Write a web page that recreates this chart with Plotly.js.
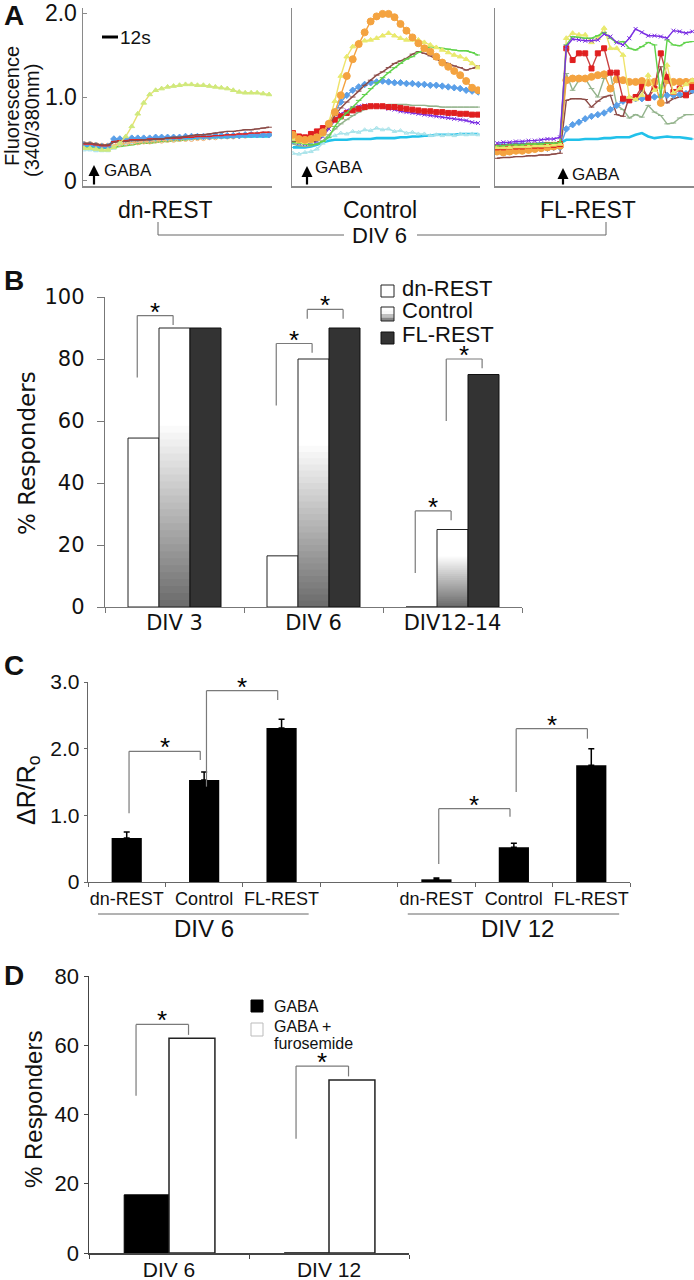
<!DOCTYPE html>
<html><head><meta charset="utf-8">
<script src="https://cdn.plot.ly/plotly-3.0.1.min.js"></script>
<style>html,body{margin:0;padding:0;background:#fff}#chart{width:694px;height:1280px}</style>
</head><body><div id="chart"></div>
<script>
// ---------------- DATA ----------------
// Panel A: fluorescence ratio traces (340/380nm), one value per frame
const frames = [0,1,2,3,4,5,6,7,8,9,10,11,12,13,14,15,16,17,18,19,20,21,22,23,24,25,26,27,28,29,30,31];
const panelALabels = ['dn-REST','Control','FL-REST'];

// dn-REST
const dnYellow    = [0.39,0.39,0.38,0.37,0.37,0.40,0.45,0.53,0.65,0.80,0.93,1.03,1.08,1.10,1.12,1.13,1.14,1.15,1.15,1.14,1.14,1.13,1.12,1.11,1.10,1.08,1.06,1.05,1.05,1.05,1.04,1.03];
const dnBrown     = [0.45,0.45,0.44,0.43,0.43,0.46,0.47,0.47,0.48,0.48,0.49,0.49,0.50,0.50,0.51,0.52,0.52,0.53,0.54,0.55,0.55,0.56,0.57,0.58,0.59,0.59,0.60,0.61,0.61,0.62,0.63,0.64];
const dnRed       = [0.44,0.44,0.43,0.42,0.42,0.47,0.48,0.48,0.49,0.49,0.49,0.50,0.50,0.50,0.51,0.51,0.51,0.52,0.52,0.53,0.53,0.53,0.54,0.54,0.55,0.55,0.56,0.56,0.57,0.57,0.58,0.58];
const dnBlue      = [0.43,0.43,0.42,0.41,0.41,0.50,0.50,0.50,0.51,0.51,0.51,0.51,0.52,0.52,0.52,0.52,0.52,0.53,0.53,0.53,0.53,0.53,0.54,0.54,0.54,0.54,0.54,0.55,0.55,0.55,0.55,0.55];
const dnCyan      = [0.42,0.42,0.41,0.40,0.40,0.49,0.49,0.49,0.50,0.50,0.50,0.50,0.50,0.51,0.51,0.51,0.51,0.51,0.51,0.52,0.52,0.52,0.52,0.52,0.52,0.53,0.53,0.53,0.53,0.53,0.53,0.53];
const dnOrange    = [0.44,0.44,0.43,0.42,0.42,0.43,0.44,0.45,0.46,0.46,0.47,0.47,0.48,0.48,0.49,0.49,0.50,0.50,0.50,0.51,0.51,0.52,0.52,0.53,0.53,0.53,0.54,0.54,0.55,0.55,0.55,0.56];
const dnGreen     = [0.40,0.40,0.39,0.39,0.39,0.40,0.41,0.42,0.43,0.44,0.45,0.45,0.46,0.47,0.47,0.48,0.48,0.49,0.50,0.50,0.51,0.51,0.52,0.52,0.53,0.53,0.53,0.54,0.54,0.54,0.55,0.55];
const dnLightCyan = [0.37,0.37,0.36,0.36,0.36,0.39,0.42,0.44,0.45,0.46,0.46,0.47,0.47,0.48,0.48,0.49,0.49,0.50,0.50,0.51,0.51,0.51,0.52,0.52,0.52,0.53,0.53,0.53,0.53,0.54,0.54,0.54];

// Control
const ctOrange    = [0.55,0.50,0.49,0.50,0.52,0.58,0.68,0.82,1.02,1.25,1.45,1.63,1.77,1.90,1.96,1.99,1.99,1.95,1.87,1.79,1.71,1.64,1.58,1.54,1.48,1.41,1.36,1.31,1.26,1.19,1.11,1.08];
const ctYellow    = [0.50,0.47,0.46,0.47,0.50,0.55,0.70,0.95,1.25,1.48,1.60,1.65,1.67,1.68,1.70,1.73,1.76,1.73,1.70,1.68,1.68,1.68,1.65,1.62,1.59,1.56,1.53,1.50,1.48,1.45,1.40,1.35];
const ctGreen     = [0.46,0.45,0.44,0.43,0.44,0.47,0.52,0.65,0.74,0.81,0.88,0.96,1.03,1.10,1.17,1.23,1.29,1.35,1.40,1.45,1.48,1.53,1.57,1.60,1.59,1.58,1.57,1.56,1.55,1.55,1.53,1.50];
const ctBrown     = [0.47,0.46,0.45,0.46,0.48,0.55,0.65,0.78,0.87,0.94,1.00,1.07,1.14,1.20,1.26,1.30,1.35,1.40,1.43,1.46,1.51,1.54,1.52,1.49,1.45,1.42,1.40,1.37,1.35,1.32,1.34,1.37];
const ctBlue      = [0.48,0.47,0.46,0.47,0.50,0.56,0.68,0.82,0.94,1.02,1.08,1.12,1.15,1.17,1.18,1.19,1.18,1.17,1.17,1.16,1.16,1.15,1.15,1.14,1.14,1.13,1.12,1.11,1.10,1.08,1.07,1.06];
const ctRed       = [0.57,0.53,0.52,0.56,0.59,0.63,0.68,0.73,0.77,0.81,0.84,0.86,0.88,0.89,0.89,0.89,0.88,0.88,0.87,0.86,0.85,0.84,0.83,0.83,0.82,0.82,0.81,0.81,0.80,0.80,0.79,0.79];
const ctPurple    = [0.47,0.45,0.44,0.45,0.47,0.53,0.62,0.72,0.80,0.84,0.87,0.89,0.90,0.90,0.89,0.88,0.86,0.85,0.83,0.82,0.81,0.80,0.79,0.78,0.77,0.76,0.75,0.74,0.73,0.72,0.70,0.69];
const ctSage      = [0.44,0.42,0.41,0.42,0.44,0.48,0.55,0.62,0.68,0.73,0.78,0.82,0.85,0.88,0.89,0.90,0.91,0.91,0.91,0.91,0.90,0.90,0.90,0.89,0.89,0.88,0.88,0.88,0.88,0.88,0.88,0.88];
const ctLightCyan = [0.33,0.32,0.34,0.35,0.38,0.45,0.52,0.54,0.57,0.56,0.59,0.58,0.61,0.60,0.63,0.61,0.62,0.59,0.60,0.57,0.58,0.56,0.56,0.54,0.55,0.54,0.55,0.54,0.56,0.55,0.56,0.55];
const ctCyan      = [0.40,0.40,0.40,0.41,0.43,0.46,0.48,0.49,0.49,0.49,0.50,0.50,0.50,0.50,0.51,0.51,0.51,0.51,0.52,0.52,0.53,0.53,0.54,0.54,0.55,0.55,0.55,0.55,0.56,0.56,0.56,0.56];

// FL-REST
const flPurple = [0.45,0.46,0.46,0.47,0.47,0.48,0.48,0.49,0.50,0.50,0.52,1.60,1.69,1.68,1.67,1.67,1.68,1.75,1.72,1.65,1.62,1.70,1.81,1.77,1.73,1.73,1.72,1.70,1.79,1.78,1.76,1.78];
const flGreen  = [0.42,0.42,0.43,0.43,0.43,0.44,0.44,0.44,0.45,0.45,0.46,1.62,1.72,1.71,1.70,1.70,1.73,1.77,1.70,1.65,1.66,1.58,1.56,1.60,1.65,1.62,1.00,1.68,1.62,1.61,1.65,1.66];
const flYellow = [0.40,0.40,0.40,0.41,0.41,0.41,0.42,0.42,0.42,0.43,0.44,1.70,1.76,1.74,1.74,1.65,1.70,1.82,1.58,1.58,1.50,1.00,0.97,1.02,1.26,1.08,1.12,1.38,1.05,1.10,1.15,1.20];
const flRed    = [0.40,0.40,0.41,0.41,0.41,0.42,0.42,0.42,0.43,0.43,0.44,1.58,1.44,1.52,1.52,1.34,1.52,1.58,1.29,1.29,0.98,0.96,1.00,1.12,0.99,1.10,1.52,1.24,1.06,1.10,1.02,1.12];
const flOrange = [0.35,0.34,0.35,0.36,0.36,0.37,0.38,0.39,0.40,0.41,0.42,1.20,1.22,1.22,1.22,1.24,1.26,1.27,1.10,1.21,1.20,1.18,1.18,1.19,1.17,1.18,0.93,1.20,1.18,1.18,1.18,1.18];
const flSage   = [0.38,0.38,0.38,0.39,0.39,0.39,0.40,0.40,0.40,0.41,0.41,1.28,1.08,1.20,1.22,1.10,1.00,1.22,1.28,0.90,0.85,0.75,0.79,0.76,0.90,0.82,0.78,0.68,0.69,0.75,0.79,0.79];
const flBrown  = [0.27,0.28,0.28,0.29,0.29,0.30,0.30,0.31,0.31,0.32,0.33,0.96,0.98,0.98,0.97,0.88,0.95,1.00,1.02,0.79,0.77,1.00,0.98,1.08,1.00,1.15,1.36,0.93,0.98,1.00,1.02,1.05];
const flBlue   = [0.37,0.37,0.37,0.38,0.38,0.38,0.39,0.39,0.39,0.40,0.40,0.62,0.67,0.70,0.74,0.77,0.79,0.81,0.85,0.90,0.95,0.97,0.98,0.98,0.99,1.00,1.01,1.02,1.02,1.03,1.04,1.08];
const flCyan   = [0.43,0.43,0.43,0.44,0.44,0.44,0.44,0.45,0.45,0.45,0.45,0.49,0.49,0.49,0.50,0.50,0.50,0.51,0.51,0.52,0.52,0.52,0.55,0.57,0.53,0.51,0.52,0.53,0.52,0.52,0.51,0.50];

// Panel B: % responders
const bCategories = ['DIV 3','DIV 6','DIV12-14'];
const bSeriesNames = ['dn-REST','Control','FL-REST'];
const bDnREST   = [54.5, 16.5, 0];
const bControl  = [90, 80, 25];
const bFLREST   = [90, 90, 75];
// significance brackets: [category index, from bar, to bar, left y, top y, right y]
const bBrackets = [[0,0,1,74,94,91],[1,0,1,65,85,82],[1,1,2,93,96,93],[2,1,2,60,80,77],[2,0,1,11,31,28]];

// Panel C: dR/Ro
const cGroups = ['DIV 6','DIV 12'];
const cConditions = ['dn-REST','Control','FL-REST'];
const cDiv6Mean  = [0.66, 1.53, 2.31];
const cDiv6Err   = [0.09, 0.12, 0.13];
const cDiv12Mean = [0.04, 0.52, 1.75];
const cDiv12Err  = [0.02, 0.06, 0.25];
// [from index, to index, left y, top y, right y]
const cBrackets = [[0,1,1.03,1.96,1.83],[1,2,1.43,2.87,2.73],[4,5,0.27,1.10,0.98],[5,6,1.35,2.30,2.15]];

// Panel D: % responders GABA vs GABA + furosemide
const dCategories = ['DIV 6','DIV 12'];
const dGABA      = [16.8, 0];
const dGABAFuro  = [62, 50];
const dBrackets  = [[0,45.4,66,63],[1,33,54,51]];

// ---------------- HELPERS ----------------
const W = 694, H = 1280;
const px = v => v / W;
const py = v => 1 - v / H;
const SANS = 'Liberation Sans, Arial, sans-serif';
const DEJA = 'DejaVu Sans, Verdana, sans-serif';

const STY = {
  yellow:    {line:'#efe36b', marker:'#e9ea6e', symbol:'triangle-up', size:5},
  yellowG:   {line:'#e8e070', marker:'#cfe97c', symbol:'triangle-up', size:5},
  green:     {line:'#5fd24a', marker:'#5fd24a', symbol:'line-ew-open', size:4},
  orange:    {line:'#f4a340', marker:'#f4a340', symbol:'circle', size:7},
  orangeOpen:{line:'#f2b87a', marker:'#f2b070', symbol:'circle-open', size:5},
  brown:     {line:'#8c4b47', marker:'#8c4b47', symbol:'line-ew-open', size:4},
  blue:      {line:'#5a9fe8', marker:'#5a9fe8', symbol:'diamond', size:5},
  red:       {line:'#c94040', marker:'#e01f1f', symbol:'square', size:5},
  redDash:   {line:'#d84040', marker:'#e01f1f', symbol:'line-ew-open', size:4},
  purple:    {line:'#7b2fe3', marker:'#7b2fe3', symbol:'x-thin-open', size:4},
  sage:      {line:'#93b38c', marker:'#93b38c', symbol:'line-ew-open', size:4},
  lightcyan: {line:'#a9e3ea', marker:'#a9e3ea', symbol:'triangle-up-open', size:4},
  cyan:      {line:'#22c1ea', marker:'#22c1ea', symbol:'line-ew-open', size:2, width:2.6}
};

const traces = [];
function seriesTrace(values, sty, xa, ya) {
  const s = STY[sty];
  return {type:'scatter', mode:'lines+markers', x:frames, y:values, xaxis:xa, yaxis:ya,
    line:{color:s.line, width:s.width || 1.4},
    marker:{symbol:s.symbol, size:s.size, color:s.marker, line:{color:s.marker, width:1}},
    hoverinfo:'skip', showlegend:false};
}
[['lightcyan',dnLightCyan],['green',dnGreen],['orangeOpen',dnOrange],['cyan',dnCyan],['blue',dnBlue],['redDash',dnRed],['brown',dnBrown],['yellowG',dnYellow]]
  .forEach(([s,v]) => traces.push(seriesTrace(v, s, 'x', 'y')));
[['cyan',ctCyan],['lightcyan',ctLightCyan],['sage',ctSage],['purple',ctPurple],['red',ctRed],['blue',ctBlue],['brown',ctBrown],['green',ctGreen],['yellow',ctYellow],['orange',ctOrange]]
  .forEach(([s,v]) => traces.push(seriesTrace(v, s, 'x2', 'y2')));
[['cyan',flCyan],['sage',flSage],['brown',flBrown],['blue',flBlue],['orange',flOrange],['red',flRed],['yellow',flYellow],['green',flGreen],['purple',flPurple]]
  .forEach(([s,v]) => traces.push(seriesTrace(v, s, 'x3', 'y3')));

// ---- Panel B bars ----
const bW = 0.223;
const bOffsets = [-1.5*bW, -0.5*bW, 0.5*bW];
traces.push({type:'bar', x:bCategories, y:bDnREST, name:bSeriesNames[0], xaxis:'x4', yaxis:'y4',
  offset:bOffsets[0], width:bW, marker:{color:'#ffffff', line:{color:'#222', width:1}}, hoverinfo:'skip'});
const SEG = 40;
function ctrlGrey(f){ const g = Math.round(0x6a + (0xff-0x6a)*Math.min(1, f/0.66)); return `rgb(${g},${g},${g})`; }
// gradient fill of the Control bars: each layer runs from its base to the bar top, upper layers cover lower ones
for (let k = 0; k < SEG; k++) {
  traces.push({type:'bar', x:bCategories, y:bControl.map(v => v*(SEG-k)/SEG), base:bControl.map(v => v*k/SEG),
    xaxis:'x4', yaxis:'y4', offset:bOffsets[1], width:bW,
    marker:{color:ctrlGrey((k+0.5)/SEG), line:{width:0}}, hoverinfo:'skip', showlegend:false});
}
traces.push({type:'bar', x:bCategories, y:bControl, name:bSeriesNames[1], xaxis:'x4', yaxis:'y4',
  offset:bOffsets[1], width:bW, marker:{color:'rgba(0,0,0,0)', line:{color:'#222', width:1}}, hoverinfo:'skip'});
traces.push({type:'bar', x:bCategories, y:bFLREST, name:bSeriesNames[2], xaxis:'x4', yaxis:'y4',
  offset:bOffsets[2], width:bW, marker:{color:'#333333', line:{color:'#111', width:1}}, hoverinfo:'skip'});

// ---- Panel C bars ----
const cKeys = [...cConditions.map(c => c + ' | ' + cGroups[0]), 'gap', ...cConditions.map(c => c + ' | ' + cGroups[1])];
const cTickText = [...cConditions, '', ...cConditions];
const cMeans = [...cDiv6Mean, null, ...cDiv12Mean];
const cErrs = [...cDiv6Err, 0, ...cDiv12Err];
traces.push({type:'bar', x:cKeys, y:cMeans, xaxis:'x5', yaxis:'y5', offset:-0.195, width:0.39,
  marker:{color:'#000', line:{width:0}}, hoverinfo:'skip',
  error_y:{type:'data', symmetric:false, array:cErrs, arrayminus:cErrs.map(() => 0), color:'#000', thickness:1.5, width:3}});

// ---- Panel D bars ----
traces.push({type:'bar', x:dCategories, y:dGABA, name:'GABA', xaxis:'x6', yaxis:'y6', offset:-0.28, width:0.28,
  marker:{color:'#000', line:{color:'#000', width:1}}, hoverinfo:'skip'});
traces.push({type:'bar', x:dCategories, y:dGABAFuro, name:'GABA + furosemide', xaxis:'x6', yaxis:'y6', offset:0, width:0.287,
  marker:{color:'#fff', line:{color:'#222', width:1.5}}, hoverinfo:'skip'});

// ---------------- SHAPES & ANNOTATIONS ----------------
const shapes = [], annotations = [];
function line(xref, yref, x0, y0, x1, y1, color, width) {
  shapes.push({type:'line', xref, yref, x0, y0, x1, y1, line:{color, width}});
}
function rect(x0, y0, x1, y1, fill, lc, lw) {
  shapes.push({type:'rect', xref:'paper', yref:'paper', x0:px(x0), x1:px(x1), y0:py(y0), y1:py(y1),
    fillcolor:fill, line:{color:lc, width:lw}});
}
function text(t, x, y, size, opts) {
  annotations.push(Object.assign({xref:'paper', yref:'paper', x:px(x), y:py(y), text:t, showarrow:false,
    font:{family:SANS, size, color:'#111'}, xanchor:'center', yanchor:'middle'}, opts || {}));
}
function bracket(xa, ya, L, R, yL, yT, yR) {
  const c = '#7a7a7a';
  line(xa, ya, L, yL, L, yT, c, 1.2);
  line(xa, ya, L, yT, R, yT, c, 1.2);
  line(xa, ya, R, yT, R, yR, c, 1.2);
  annotations.push({xref:xa, yref:ya, x:(L+R)/2, y:yT, text:'*', showarrow:false, xanchor:'center', yanchor:'bottom',
    yshift:-13, font:{family:SANS, size:26, color:'#000'}});
}

// Panel letters
text('<b>A</b>', 2, 15, 28, {xanchor:'left'});
text('<b>B</b>', 2, 280, 28, {xanchor:'left'});
text('<b>C</b>', 2, 665, 28, {xanchor:'left'});
text('<b>D</b>', 2, 975, 28, {xanchor:'left'});

// Panel A texts
text('Fluorescence', 12, 106, 20, {textangle:-90});
text('(340/380nm)', 32, 120, 20, {textangle:-90});
line('paper','paper', px(102), py(37), px(118), py(37), '#000', 3);
text('12s', 118, 37, 19, {xanchor:'left'});
[[94,186,165,102,171],[307,186,166,313,168],[563,186,168,570,174]].forEach(([x, yb, yt, tx, ty]) => {
  annotations.push({xref:'paper', yref:'paper', x:px(x), y:py(yt), ax:0, ay:yb-yt, text:'', showarrow:true,
    arrowhead:2, arrowsize:1, arrowwidth:2.2, arrowcolor:'#000'});
  text('GABA', tx, ty, 17, {xanchor:'left'});
});
text(panelALabels[0], 165, 210, 23);
text(panelALabels[1], 380, 210, 23);
text(panelALabels[2], 588, 210, 23);
line('paper','paper', px(158), py(222), px(158), py(235), '#666', 1);
line('paper','paper', px(158), py(235), px(344), py(235), '#666', 1);
line('paper','paper', px(417), py(235), px(606), py(235), '#666', 1);
line('paper','paper', px(606), py(235), px(606), py(222), '#666', 1);
text('DIV 6', 380, 236, 22);

// Panel B titles, legend, brackets
text('% Responders', 27, 453, 23, {textangle:-90, font:{family:DEJA, size:23, color:'#111'}});
const bCenters = [-bW, 0, bW];
bBrackets.forEach(([c, a, b, yL, yT, yR]) => bracket('x4', 'y4', c + bCenters[a] - 0.045, c + bCenters[b] - 0.01, yL, yT, yR));
rect(381, 285, 394, 297, '#fff', '#222', 1);
for (let k = 0; k < 4; k++) rect(381, 307 + k*3.5, 394, 310.5 + k*3.5, ctrlGrey(1 - (k+0.5)/4), 'rgba(0,0,0,0)', 0);
rect(381, 307, 394, 321, 'rgba(0,0,0,0)', '#222', 1);
rect(381, 332, 394, 344, '#333', '#111', 1);
text(bSeriesNames[0], 400, 288, 22, {xanchor:'left'});
text(bSeriesNames[1], 400, 311, 22, {xanchor:'left'});
text(bSeriesNames[2], 400, 334, 22, {xanchor:'left'});

// Panel C
text('ΔR/R<sub>o</sub>', 28, 790, 25, {textangle:-90});
cBrackets.forEach(([a, b, yL, yT, yR]) => bracket('x5', 'y5', a + 0.03, b - 0.05, yL, yT, yR));
line('x5','paper', -0.37, py(914), 2.35, py(914), '#666', 1);
line('x5','paper', 3.63, py(914), 6.36, py(914), '#666', 1);
annotations.push({xref:'x5', yref:'paper', x:1, y:py(928), text:cGroups[0], showarrow:false, yanchor:'middle', font:{family:SANS, size:24, color:'#111'}});
annotations.push({xref:'x5', yref:'paper', x:5.05, y:py(928), text:cGroups[1], showarrow:false, yanchor:'middle', font:{family:SANS, size:24, color:'#111'}});

// Panel D
text('% Responders', 33, 1110, 24, {textangle:-90});
dBrackets.forEach(([c, yL, yT, yR]) => bracket('x6', 'y6', c - 0.206, c + 0.122, yL, yT, yR));
rect(251, 1000, 263, 1012, '#000', '#000', 1);
rect(251, 1023, 263, 1036, '#fff', '#bbb', 1);
text('GABA', 272, 1006, 16, {xanchor:'left'});
text('GABA +', 272, 1026, 16, {xanchor:'left'});
text('furosemide', 272, 1043, 16, {xanchor:'left'});

// ---------------- AXES ----------------
const yDomA = [py(186), py(8)];
function axAx(d0, d1, range, anchor) {
  return {domain:[px(d0), px(d1)], range, anchor, showline:true, linecolor:'#8a8a8a', linewidth:1.5,
    showgrid:false, zeroline:false, showticklabels:false, ticks:'', fixedrange:true};
}
function axAy(anchor, labels) {
  return {domain:yDomA, range:[-0.06, 2.06], anchor, showline:true, linecolor:'#8a8a8a', linewidth:1.5,
    showgrid:false, zeroline:false, fixedrange:true,
    showticklabels:labels, ticks:labels ? 'inside' : '', ticklen:4, tickcolor:'#8a8a8a',
    tickmode:'array', tickvals:[0,1,2], ticktext:['0','1.0','2.0'], tickfont:{family:SANS, size:23, color:'#111'}};
}

const layout = {
  width:W, height:H, margin:{l:0, r:0, t:0, b:0, pad:0}, paper_bgcolor:'#fff', plot_bgcolor:'rgba(0,0,0,0)',
  showlegend:false, barmode:'overlay', font:{family:SANS, color:'#111'},
  xaxis:  axAx(83, 272, [-0.17, 31.49], 'y'),
  yaxis:  axAy('x', true),
  xaxis2: axAx(292, 480, [-0.17, 31.32], 'y2'),
  yaxis2: axAy('x2', false),
  xaxis3: axAx(495, 694, [-0.32, 31.27], 'y3'),
  yaxis3: axAy('x3', false),
  xaxis4: {domain:[px(105), px(522)], anchor:'y4', type:'category', categoryorder:'array', categoryarray:bCategories,
    range:[-0.5, 2.5], showline:true, linecolor:'#777', linewidth:1.3, ticks:'outside', tickson:'boundaries',
    ticklen:5, tickcolor:'#777', ticklabelstandoff:-4, tickangle:0, showgrid:false, zeroline:false, fixedrange:true,
    tickfont:{family:DEJA, size:21, color:'#111'}},
  yaxis4: {domain:[py(607), py(297)], anchor:'x4', range:[0, 100], tickmode:'array', tickvals:[0,20,40,60,80,100],
    showline:true, linecolor:'#777', linewidth:1.3, ticks:'outside', ticklen:7, tickcolor:'#777', ticklabelstandoff:8,
    showgrid:false, zeroline:false, fixedrange:true, tickfont:{family:DEJA, size:21, color:'#111'}},
  xaxis5: {domain:[px(88), px(630)], anchor:'y5', type:'category', categoryorder:'array', categoryarray:cKeys,
    tickmode:'array', tickvals:cKeys, ticktext:cTickText, range:[-0.5, 6.5], tickangle:0,
    showline:true, linecolor:'#666', linewidth:1.3, ticks:'outside', tickson:'boundaries', ticklen:4, tickcolor:'#666',
    showgrid:false, zeroline:false, fixedrange:true, tickfont:{family:SANS, size:18, color:'#111'}},
  yaxis5: {domain:[py(882), py(682)], anchor:'x5', range:[0, 3], tickmode:'array', tickvals:[0,1,2,3], ticktext:['0','1.0','2.0','3.0'],
    showline:true, linecolor:'#666', linewidth:1.3, ticks:'outside', ticklen:3, tickcolor:'#666',
    showgrid:false, zeroline:false, fixedrange:true, tickfont:{family:SANS, size:21, color:'#111'}},
  xaxis6: {domain:[px(89), px(409)], anchor:'y6', type:'category', categoryorder:'array', categoryarray:dCategories,
    range:[-0.5, 1.5], showline:true, linecolor:'#444', linewidth:1.5, ticks:'outside', tickson:'boundaries', ticklen:4, tickcolor:'#444',
    ticklabelstandoff:-3, tickangle:0, showgrid:false, zeroline:false, fixedrange:true, tickfont:{family:SANS, size:21, color:'#111'}},
  yaxis6: {domain:[py(1253), py(976)], anchor:'x6', range:[0, 80], tickmode:'array', tickvals:[0,20,40,60,80],
    showline:true, linecolor:'#444', linewidth:1.5, ticks:'outside', ticklen:4, tickcolor:'#444',
    showgrid:false, zeroline:false, fixedrange:true, tickfont:{family:SANS, size:22, color:'#111'}},
  shapes, annotations
};

Plotly.newPlot('chart', traces, layout, {displayModeBar:false, staticPlot:true});
</script></body></html>
